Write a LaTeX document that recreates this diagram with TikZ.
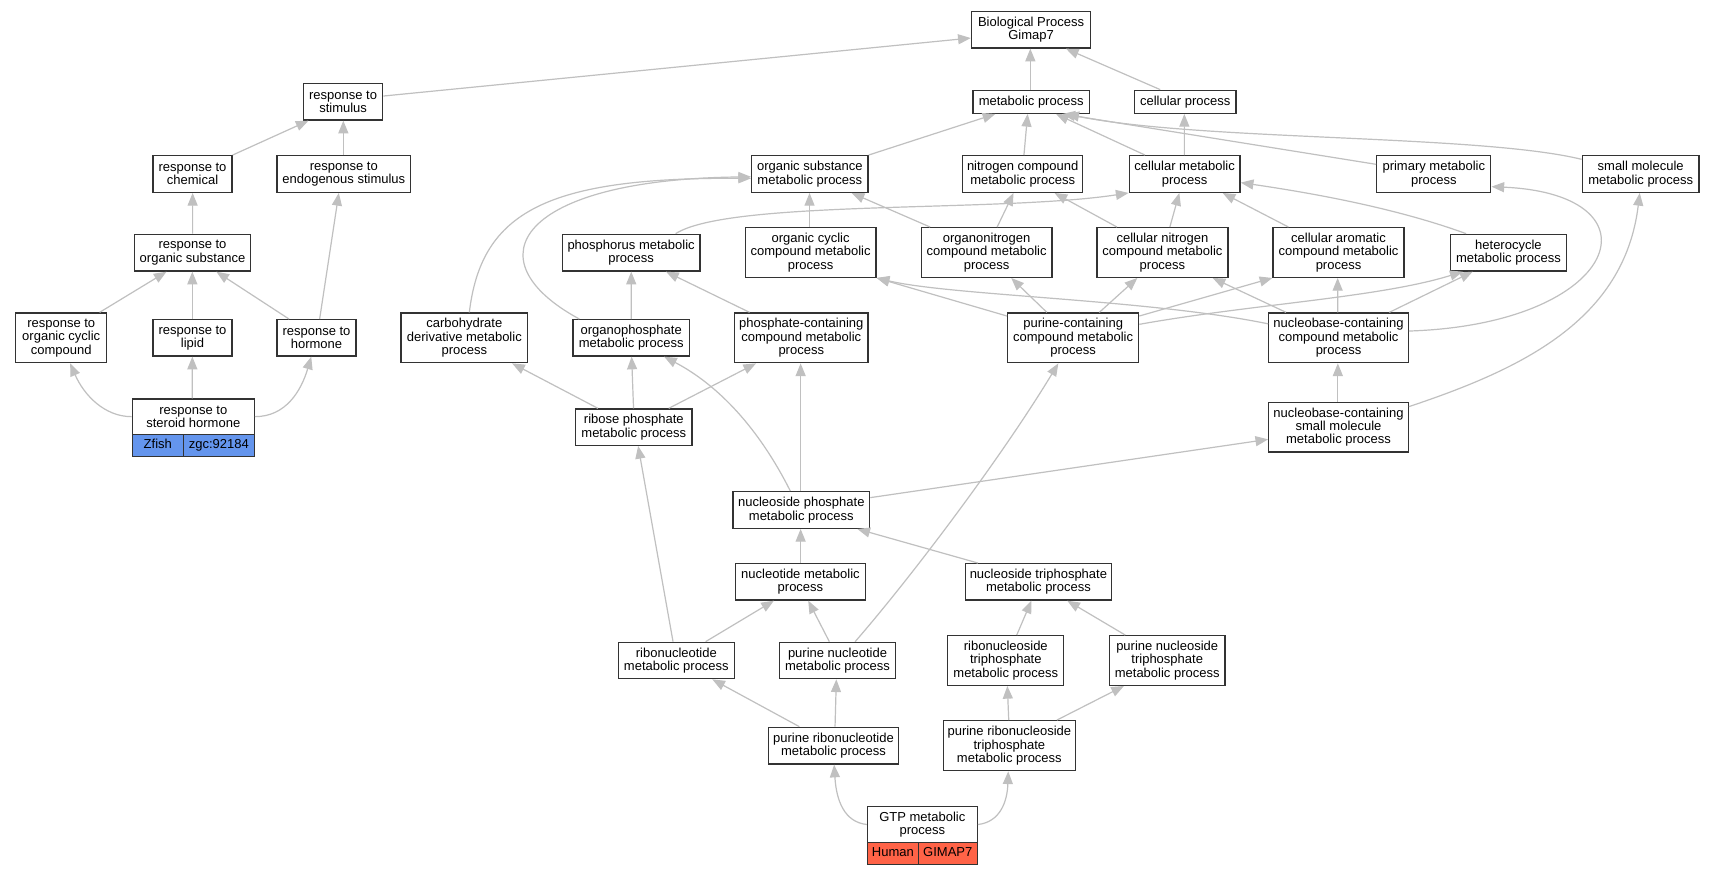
\documentclass[tikz,border=0pt]{standalone}
\usepackage{fontspec}
\setmainfont{Liberation Sans}
\usetikzlibrary{arrows.meta,calc}
\definecolor{edgec}{HTML}{C0C0C0}
\definecolor{boxc}{HTML}{333333}
\definecolor{zfish}{HTML}{6495ED}
\definecolor{human}{HTML}{FF6347}
\tikzset{
  box/.style={draw=boxc, line width=1pt, fill=white, inner sep=0pt, align=center, font=\fontsize{9.75}{10}\selectfont},
  bx/.style 2 args={box, minimum width=#1*0.75pt, minimum height=#2*0.75pt},
  cell/.style={text height=7pt, text depth=2pt},
  edge/.style={draw=edgec, line width=0.9pt, -{Triangle[length=9.5pt,width=7.5pt]}}
}
\begin{document}
\begin{tikzpicture}[x=0.75pt,y=-0.75pt]
\useasboundingbox (0,0) rectangle (1715,875);
\fill[white] (0,0) rectangle (1715,875);
% nodes
\node[bx={119.4}{36.3}] (bp) at (1031.1,29.85) {Biological Process\\Gimap7};
\node[bx={116.3}{23}] (met) at (1031.15,101.8) {metabolic process};
\node[bx={101.4}{23}] (cel) at (1185.2,101.8) {cellular process};
\node[bx={79.2}{36.7}] (stim) at (343.1,101.65) {response to\\stimulus};
\node[bx={79}{36.6}] (chem) at (192.5,174) {response to\\chemical};
\node[bx={133.6}{36.6}] (endo) at (343.8,174) {response to\\endogenous stimulus};
\node[bx={116.4}{36.7}] (orgsub) at (192.5,252.65) {response to\\organic substance};
\node[bx={91.1}{49.7}] (orgcyc) at (61.25,337.85) {response to\\organic cyclic\\compound};
\node[bx={79}{36.3}] (lipid) at (192.5,337.85) {response to\\lipid};
\node[bx={79}{36.3}] (horm) at (316.5,337.85) {response to\\hormone};
\node[bx={122}{35.3}] (ster) at (193.3,416.65) {response to\\steroid hormone};
\node[bx={51}{22.4}, cell, fill=zfish] (sterA) at (157.8,445.5) {Zfish};
\node[bx={71}{22.4}, cell, fill=zfish] (sterB) at (218.8,445.5) {zgc:92184};
\node[bx={126.7}{49.7}] (carb) at (464.35,337.85) {carbohydrate\\derivative metabolic\\process};
\node[bx={116.3}{36.6}] (osmp) at (809.85,174) {organic substance\\metabolic process};
\node[bx={120.1}{36.6}] (ncmp) at (1022.65,174) {nitrogen compound\\metabolic process};
\node[bx={110.9}{36.6}] (cmp) at (1184.65,174) {cellular metabolic\\process};
\node[bx={114}{36.6}] (pmp) at (1433.8,174) {primary metabolic\\process};
\node[bx={116.7}{36.6}] (smmp) at (1640.65,174) {small molecule\\metabolic process};
\node[bx={137.8}{36.7}] (phos) at (631.1,252.65) {phosphorus metabolic\\process};
\node[bx={130.8}{49.6}] (occmp) at (810.6,252.5) {organic cyclic\\compound metabolic\\process};
\node[bx={130.9}{49.6}] (onmp) at (986.65,252.5) {organonitrogen\\compound metabolic\\process};
\node[bx={130.9}{49.6}] (cnmp) at (1162.45,252.5) {cellular nitrogen\\compound metabolic\\process};
\node[bx={131}{49.6}] (camp) at (1338.5,252.5) {cellular aromatic\\compound metabolic\\process};
\node[bx={116.4}{36.7}] (het) at (1508.4,252.65) {heterocycle\\metabolic process};
\node[bx={116.3}{36.3}] (opmp) at (631.15,337.85) {organophosphate\\metabolic process};
\node[bx={133.5}{49.7}] (pcmp) at (801.25,337.85) {phosphate-containing\\compound metabolic\\process};
\node[bx={130.9}{49.7}] (purc) at (1073.15,337.85) {purine-containing\\compound metabolic\\process};
\node[bx={139.4}{49.7}] (nbc) at (1338.5,337.85) {nucleobase-containing\\compound metabolic\\process};
\node[bx={116.4}{36.3}] (rpmp) at (633.8,427.15) {ribose phosphate\\metabolic process};
\node[bx={139.4}{49.7}] (nbsm) at (1338.5,427.15) {nucleobase-containing\\small molecule\\metabolic process};
\node[bx={136.6}{36.6}] (nspmp) at (801.3,510) {nucleoside phosphate\\metabolic process};
\node[bx={129.5}{36.3}] (ntmp) at (800.45,581.85) {nucleotide metabolic\\process};
\node[bx={146.4}{36.3}] (nstp) at (1038.4,581.85) {nucleoside triphosphate\\metabolic process};
\node[bx={116.1}{36.4}] (rnmp) at (676.35,660.5) {ribonucleotide\\metabolic process};
\node[bx={116}{36.4}] (pnmp) at (837.5,660.5) {purine nucleotide\\metabolic process};
\node[bx={116}{49.6}] (rnstp) at (1005.8,660.5) {ribonucleoside\\triphosphate\\metabolic process};
\node[bx={115.6}{49.6}] (pnstp) at (1167.2,660.5) {purine nucleoside\\triphosphate\\metabolic process};
\node[bx={129.4}{36.7}] (prn) at (833.5,745.65) {purine ribonucleotide\\metabolic process};
\node[bx={132.1}{50}] (prnstp) at (1009.35,745.7) {purine ribonucleoside\\triphosphate\\metabolic process};
\node[bx={109.8}{35.6}] (gtp) at (922.3,824.5) {GTP metabolic\\process};
\node[bx={50.9}{22}, cell, fill=human] (gtpA) at (892.85,853.3) {Human};
\node[bx={58.9}{22}, cell, fill=human] (gtpB) at (947.75,853.3) {GIMAP7};
% edges
\draw[edge] ($(stim.north east)+(0,13.4)$) -- ($(bp.north west)+(0,27)$);
\draw[edge] (chem.north east) -- ($(stim.south west)+(5.7,0)$);
\draw[edge] ($(endo.north west)+(67,0)$) -- ($(stim.south west)+(40.5,0)$);
\draw[edge] ($(orgsub.north west)+(59,0)$) -- ($(chem.south west)+(40.3,0)$);
\draw[edge] ($(orgcyc.north west)+(84.6,0)$) -- ($(orgsub.south west)+(32.9,0)$);
\draw[edge] ($(lipid.north west)+(40,0)$) -- ($(orgsub.south west)+(58.7,0)$);
\draw[edge] ($(horm.north west)+(12.7,0)$) -- ($(orgsub.south west)+(82.7,0)$);
\draw[edge] ($(horm.north west)+(43.3,0)$) -- ($(endo.south west)+(62.5,0)$);
\draw[edge] (ster.west) .. controls +(-27,0) and +(14,32) .. ($(orgcyc.south west)+(55.1,0)$);
\draw[edge] ($(ster.north west)+(60.7,0)$) -- ($(lipid.south west)+(40,0)$);
\draw[edge] (ster.east) .. controls +(31,0) and +(-10,34) .. ($(horm.south west)+(34.9,0)$);
\draw[edge] ($(met.north west)+(58,0)$) -- ($(bp.south west)+(59.6,0)$);
\draw[edge] ($(cel.north west)+(26.4,0)$) -- ($(bp.south west)+(95.2,0)$);
\draw[edge] (osmp.north east) -- ($(met.south west)+(23,0)$);
\draw[edge] ($(ncmp.north west)+(62,0)$) -- ($(met.south west)+(55.3,0)$);
\draw[edge] ($(cmp.north west)+(16.4,0)$) -- ($(met.south west)+(83.7,0)$);
\draw[edge] ($(pmp.north west)+(0,9.3)$) -- ($(met.south west)+(90,0)$);
\draw[edge] ($(smmp.north west)+(0,4.3)$) .. controls +(-102,-25) and +(133,27) .. ($(met.south west)+(94,0)$);
\draw[edge] ($(cmp.north west)+(55.8,0)$) -- ($(cel.south west)+(50.5,0)$);
\draw[edge] ($(carb.north west)+(69,0)$) .. controls +(12,-101) and +(-203.7,-1) .. ($(osmp.north west)+(0,23.3)$);
\draw[edge] ($(opmp.north west)+(7,0)$) .. controls +(-110,-59.7) and +(-231.7,2.5) .. ($(osmp.north west)+(0,21.8)$);
\draw[edge] ($(occmp.north west)+(65,0)$) -- ($(osmp.south west)+(58.5,0)$);
\draw[edge] ($(onmp.north west)+(9.6,0)$) -- ($(osmp.south west)+(100.6,0)$);
\draw[edge] ($(onmp.north west)+(76.6,0)$) -- ($(ncmp.south west)+(51.6,0)$);
\draw[edge] ($(phos.north west)+(114.1,0)$) .. controls +(53.7,-34.3) and +(-129.2,19.7) .. (cmp.south west);
\draw[edge] ($(cnmp.north west)+(20.6,0)$) -- ($(ncmp.south west)+(92.6,0)$);
\draw[edge] ($(cnmp.north west)+(73.5,0)$) -- ($(cmp.south west)+(50.8,0)$);
\draw[edge] ($(camp.north west)+(16.1,0)$) -- ($(cmp.south west)+(94.1,0)$);
\draw[edge] ($(het.north west)+(16.5,0)$) .. controls +(-66.7,-24.3) and +(80,11.7) .. ($(cmp.north east)+(0,27.6)$);
\draw[edge] ($(opmp.north west)+(58.9,0)$) -- ($(phos.south west)+(69.7,0)$);
\draw[edge] ($(pcmp.north west)+(15.7,0)$) -- ($(phos.south west)+(104.5,0)$);
\draw[edge] ($(purc.north west)+(0,3.7)$) -- (occmp.south east);
\draw[edge] ($(purc.north west)+(39.8,0)$) -- ($(onmp.south west)+(90.7,0)$);
\draw[edge] ($(purc.north west)+(92.3,0)$) -- ($(cnmp.south west)+(41,0)$);
\draw[edge] ($(purc.north east)+(0,3.7)$) -- (camp.south west);
\draw[edge] ($(purc.north east)+(0,12)$) .. controls +(111.4,-20) and +(-83.3,26) .. ($(het.south west)+(13.1,0)$);
\draw[edge] ($(nbc.north west)+(0,11.5)$) .. controls +(-118.8,-24.5) and +(74,17.7) .. (occmp.south east);
\draw[edge] ($(nbc.north west)+(17.9,0)$) -- ($(cnmp.south west)+(116.3,0)$);
\draw[edge] ($(nbc.north west)+(69.5,0)$) -- ($(camp.south west)+(65.3,0)$);
\draw[edge] ($(nbc.north west)+(121.2,0)$) -- ($(het.south west)+(23.1,0)$);
\draw[edge] ($(nbc.north east)+(0,18.7)$) .. controls +(211.8,-6.7) and +(174.2,7.7) .. ($(pmp.north east)+(0,31.6)$);
\draw[edge] ($(nbsm.north west)+(69.7,0)$) -- ($(nbc.south west)+(69.7,0)$);
\draw[edge] ($(nbsm.north east)+(0,5)$) .. controls +(111.8,-37.3) and +(-15.4,127.7) .. ($(smmp.south west)+(58.1,0)$);
\draw[edge] ($(rpmp.north west)+(23,0)$) -- ($(carb.south west)+(111.8,0)$);
\draw[edge] ($(rpmp.north west)+(58.6,0)$) -- ($(opmp.south west)+(59.3,0)$);
\draw[edge] ($(rpmp.north west)+(93.8,0)$) -- ($(pcmp.south west)+(22.2,0)$);
\draw[edge] ($(nspmp.north west)+(58,0)$) .. controls +(-31,-61.7) and +(55.2,29) .. ($(opmp.south west)+(91.8,0)$);
\draw[edge] ($(nspmp.north west)+(68.3,0)$) -- ($(pcmp.south west)+(66.8,0)$);
\draw[edge] ($(nspmp.north east)+(0,6.6)$) -- ($(nbsm.north west)+(0,37.7)$);
\draw[edge] ($(ntmp.north west)+(65.6,0)$) -- ($(nspmp.south west)+(68.3,0)$);
\draw[edge] ($(nstp.north west)+(13.4,0)$) -- ($(nspmp.south west)+(125,0)$);
\draw[edge] ($(rnmp.north west)+(55.4,0)$) -- ($(rpmp.south west)+(63.2,0)$);
\draw[edge] ($(rnmp.north west)+(88,0)$) -- ($(ntmp.south west)+(38.9,0)$);
\draw[edge] ($(pnmp.north west)+(50.5,0)$) -- ($(ntmp.south west)+(73.2,0)$);
\draw[edge] ($(pnmp.north west)+(76.3,0)$) .. controls +(54.2,-62.3) and +(-59,97.3) .. ($(purc.south west)+(51.3,0)$);
\draw[edge] ($(rnstp.north west)+(69.6,0)$) -- ($(nstp.south west)+(66.9,0)$);
\draw[edge] ($(pnstp.north west)+(16.5,0)$) -- ($(nstp.south west)+(102.7,0)$);
\draw[edge] ($(prn.north west)+(31.2,0)$) -- ($(rnmp.south west)+(94.7,0)$);
\draw[edge] ($(prn.north west)+(66.9,0)$) -- ($(pnmp.south west)+(57.5,0)$);
\draw[edge] ($(prnstp.north west)+(66.1,0)$) -- ($(rnstp.south west)+(60.2,0)$);
\draw[edge] ($(prnstp.north west)+(114.3,0)$) -- ($(pnstp.south west)+(15.2,0)$);
\draw[edge] (gtp.west) .. controls +(-22.4,-2.5) and +(2.2,36) .. ($(prn.south west)+(66,0)$);
\draw[edge] (gtp.east) .. controls +(22.8,-2.5) and +(-0.9,29.3) .. ($(prnstp.south west)+(65.6,0)$);
\end{tikzpicture}
\end{document}
